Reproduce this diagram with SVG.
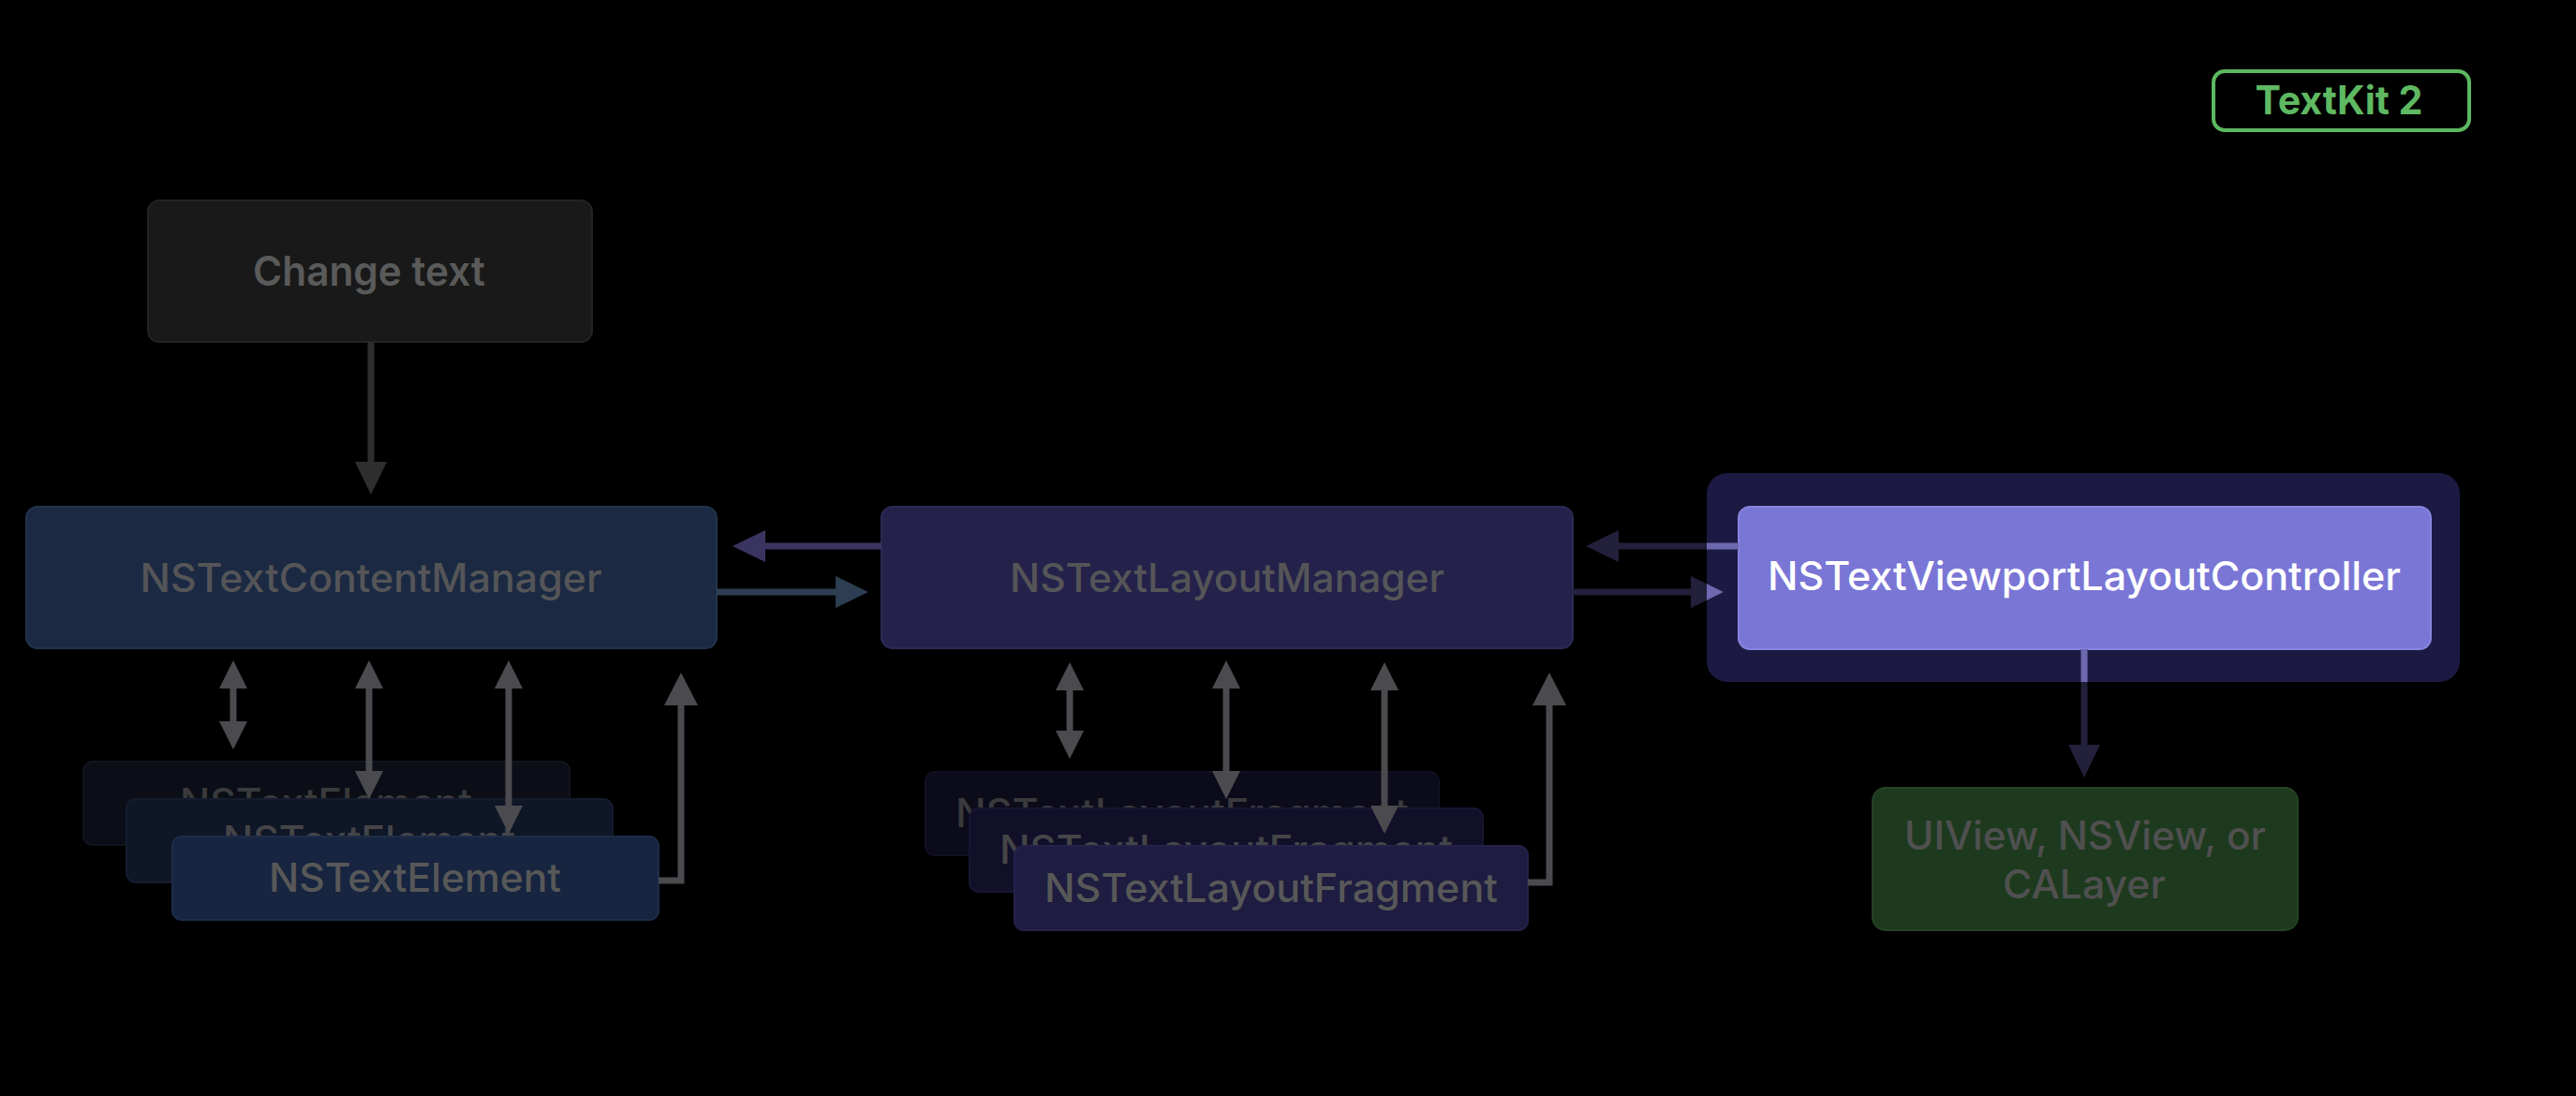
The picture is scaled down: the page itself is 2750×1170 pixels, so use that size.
<svg xmlns="http://www.w3.org/2000/svg" width="2750" height="1170" viewBox="0 0 2750 1170">
<defs>
<style>
text{font-family:Inter,"Liberation Sans",Arial,sans-serif;font-weight:500;text-anchor:middle}
.lbl{font-size:42px;fill:#555558}
.ln{fill:none;stroke-width:7;stroke-linecap:butt}
.gray{stroke:#4b4b4f}
.dgray{stroke:#2e2e2e}
.pdim{stroke:#3a3560}
.bdim{stroke:#2d3e52}
.ldim{stroke:#22203a}
.lite{stroke:#6e68b0}
</style>
<marker id="mG" markerUnits="userSpaceOnUse" markerWidth="36" markerHeight="30" refX="0" refY="15" orient="auto-start-reverse"><path d="M0,0 L30,15 L0,30 Z" fill="#4b4b4f"/></marker>
<marker id="mGL" markerUnits="userSpaceOnUse" markerWidth="36" markerHeight="36" refX="0" refY="18" orient="auto"><path d="M0,0 L35,18 L0,36 Z" fill="#4b4b4f"/></marker>
<marker id="mDG" markerUnits="userSpaceOnUse" markerWidth="36" markerHeight="34" refX="0" refY="17" orient="auto"><path d="M0,0 L35,17 L0,34 Z" fill="#2e2e2e"/></marker>
<marker id="mP" markerUnits="userSpaceOnUse" markerWidth="36" markerHeight="34" refX="0" refY="17" orient="auto"><path d="M0,0 L35,17 L0,34 Z" fill="#3a3560"/></marker>
<marker id="mB" markerUnits="userSpaceOnUse" markerWidth="36" markerHeight="34" refX="0" refY="17" orient="auto"><path d="M0,0 L35,17 L0,34 Z" fill="#2d3e52"/></marker>
<marker id="mLD" markerUnits="userSpaceOnUse" markerWidth="36" markerHeight="34" refX="0" refY="17" orient="auto"><path d="M0,0 L35,17 L0,34 Z" fill="#22203a"/></marker>
<marker id="mLT" markerUnits="userSpaceOnUse" markerWidth="36" markerHeight="34" refX="0" refY="17" orient="auto"><path d="M0,0 L35,17 L0,34 Z" fill="#6e68b0"/></marker>
<clipPath id="haloClip"><rect x="1822" y="505" width="804" height="223" rx="22"/></clipPath>
</defs>
<rect x="0" y="0" width="2750" height="1170" fill="#000"/>

<g id="badge-textkit2">
<rect x="2363" y="76" width="273" height="63" rx="12" fill="none" stroke="#5cb85f" stroke-width="4"/>
<text x="2497" y="122" style="font-size:42px;font-weight:700;fill:#5fb862" textLength="179" lengthAdjust="spacingAndGlyphs">TextKit 2</text>
</g>

<g id="node-change-text">
<rect x="158" y="214" width="474" height="151" rx="12" fill="#191919" stroke="#232323" stroke-width="2"/>
<text x="394" y="305" style="font-size:44px;font-weight:600;fill:#5a5a5a" textLength="248" lengthAdjust="spacingAndGlyphs">Change text</text>
</g>

<g id="node-content-manager">
<rect x="28" y="541" width="737" height="151" rx="12" fill="#1b2a42" stroke="#22334d" stroke-width="2"/>
<text class="lbl" x="396" y="632" textLength="493" lengthAdjust="spacingAndGlyphs">NSTextContentManager</text>
</g>

<g id="node-layout-manager">
<rect x="941" y="541" width="738" height="151" rx="12" fill="#24224a" stroke="#2c2a55" stroke-width="2"/>
<text class="lbl" x="1310" y="632" textLength="464" lengthAdjust="spacingAndGlyphs">NSTextLayoutManager</text>
</g>

<g id="node-viewport-controller">
<rect x="1822" y="505" width="804" height="223" rx="22" fill="#1c1a42"/>
<rect x="1856" y="541" width="739" height="152" rx="12" fill="#7a76d6" stroke="#8884e0" stroke-width="2"/>
<text x="2225" y="630" style="font-size:42px;fill:#ffffff" textLength="676" lengthAdjust="spacingAndGlyphs">NSTextViewportLayoutController</text>
</g>

<g id="node-view">
<rect x="1999" y="841" width="454" height="152" rx="14" fill="#1e3a1e" stroke="#244224" stroke-width="2"/>
<text class="lbl" x="2226" y="907" style="fill:#505050" textLength="386" lengthAdjust="spacingAndGlyphs">UIView, NSView, or</text>
<text class="lbl" x="2225" y="959" style="fill:#505050" textLength="174" lengthAdjust="spacingAndGlyphs">CALayer</text>
</g>

<g id="node-text-elements">
<rect x="89" y="813" width="519" height="89" rx="10" fill="#0b0e16" stroke="#10141e" stroke-width="2"/>
<text class="lbl" x="348" y="872" style="fill:#3a3a3c" textLength="312" lengthAdjust="spacingAndGlyphs">NSTextElement</text>
<rect x="135" y="853" width="519" height="89" rx="10" fill="#0f1626" stroke="#141c2e" stroke-width="2"/>
<text class="lbl" x="394" y="912" style="fill:#454548" textLength="312" lengthAdjust="spacingAndGlyphs">NSTextElement</text>
<rect x="184" y="893" width="519" height="89" rx="10" fill="#172540" stroke="#1d2c4a" stroke-width="2"/>
<text class="lbl" x="443" y="952" style="fill:#585858" textLength="312" lengthAdjust="spacingAndGlyphs">NSTextElement</text>
</g>

<g id="node-layout-fragments">
<rect x="988" y="824" width="548" height="89" rx="10" fill="#0c0b1a" stroke="#111022" stroke-width="2"/>
<text class="lbl" x="1262" y="883" style="fill:#3a3a3c" textLength="484" lengthAdjust="spacingAndGlyphs">NSTextLayoutFragment</text>
<rect x="1035" y="863" width="548" height="89" rx="10" fill="#121029" stroke="#171533" stroke-width="2"/>
<text class="lbl" x="1309" y="922" style="fill:#454548" textLength="484" lengthAdjust="spacingAndGlyphs">NSTextLayoutFragment</text>
<rect x="1083" y="903" width="548" height="90" rx="10" fill="#1e1c40" stroke="#24224b" stroke-width="2"/>
<text class="lbl" x="1357" y="963" style="fill:#585858" textLength="484" lengthAdjust="spacingAndGlyphs">NSTextLayoutFragment</text>
</g>

<g id="connectors">
<line class="ln dgray" x1="396" y1="365" x2="396" y2="493" marker-end="url(#mDG)"/>
<line class="ln pdim" x1="941" y1="583" x2="817" y2="583" marker-end="url(#mP)"/>
<line class="ln bdim" x1="765" y1="632" x2="892" y2="632" marker-end="url(#mB)"/>

<line class="ln gray" x1="249" y1="735" x2="249" y2="770" marker-start="url(#mG)" marker-end="url(#mG)"/>
<line class="ln gray" x1="394" y1="735" x2="394" y2="823" marker-start="url(#mG)" marker-end="url(#mG)"/>
<line class="ln gray" x1="543" y1="735" x2="543" y2="860" marker-start="url(#mG)" marker-end="url(#mG)"/>
<polyline class="ln gray" points="703,940 727,940 727,753" marker-end="url(#mGL)"/>

<line class="ln gray" x1="1142" y1="737" x2="1142" y2="780" marker-start="url(#mG)" marker-end="url(#mG)"/>
<line class="ln gray" x1="1309" y1="735" x2="1309" y2="823" marker-start="url(#mG)" marker-end="url(#mG)"/>
<line class="ln gray" x1="1478" y1="737" x2="1478" y2="860" marker-start="url(#mG)" marker-end="url(#mG)"/>
<polyline class="ln gray" points="1631,942 1654,942 1654,753" marker-end="url(#mGL)"/>

<g id="viewport-connectors-dim">
<line class="ln ldim" x1="1856" y1="583" x2="1728" y2="583" marker-end="url(#mLD)"/>
<line class="ln ldim" x1="1679" y1="632" x2="1805" y2="632" marker-end="url(#mLD)"/>
<line class="ln ldim" x1="2225" y1="693" x2="2225" y2="795" marker-end="url(#mLD)"/>
</g>
<g id="viewport-connectors-lit" clip-path="url(#haloClip)">
<line class="ln lite" x1="1856" y1="583" x2="1728" y2="583" marker-end="url(#mLT)"/>
<line class="ln lite" x1="1679" y1="632" x2="1805" y2="632" marker-end="url(#mLT)"/>
<line class="ln lite" x1="2225" y1="693" x2="2225" y2="795" marker-end="url(#mLT)"/>
</g>
</g>
</svg>
